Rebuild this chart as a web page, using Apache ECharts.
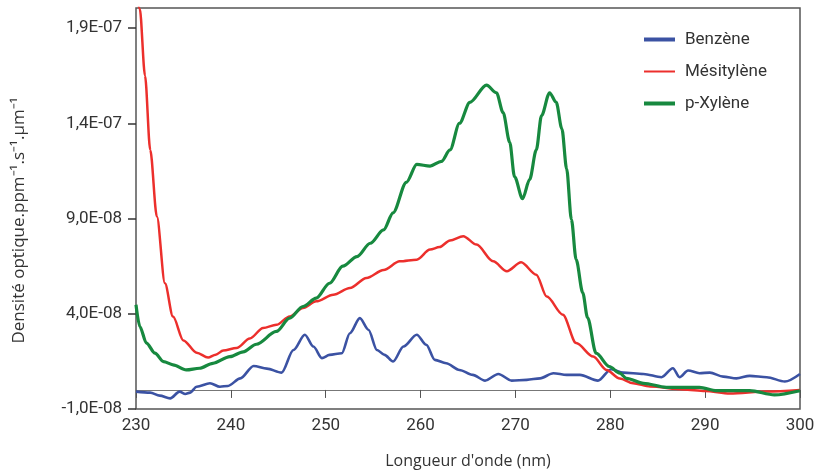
<!DOCTYPE html>
<html>
<head>
<meta charset="utf-8">
<script src="https://cdn.jsdelivr.net/npm/echarts@6/dist/echarts.min.js"></script>
<style>
  html, body { margin: 0; padding: 0; background: #fff; }
  #chart { width: 822px; height: 471px; }
</style>
</head>
<body>
<div id="chart"></div>
<script>
// values, y in units of 1E-08
var benzeneX = [230.0, 231.5, 232.5, 233.6, 234.6, 235.2, 235.7, 236.4, 237.8, 238.85, 239.7, 241.0, 242.4, 243.8, 245.35, 246.6, 247.8, 248.7, 249.6, 250.4, 251.7, 252.55, 253.6, 254.5, 255.4, 256.2, 257.1, 258.2, 259.6, 260.6, 261.5, 262.7, 264.1, 265.5, 266.8, 268.2, 269.6, 271.2, 272.6, 274.0, 275.4, 276.8, 278.7, 280.1, 281.35, 283.5, 285.4, 286.6, 287.3, 288.2, 289.4, 290.5, 291.9, 293.3, 294.7, 296.5, 298.4, 300.0];
var benzeneY = [-0.09, -0.14, -0.3, -0.44, -0.09, -0.21, -0.14, 0.17, 0.35, 0.17, 0.21, 0.61, 1.26, 1.12, 0.91, 2.1, 2.9, 2.28, 1.67, 1.84, 1.93, 2.98, 3.77, 3.16, 2.1, 1.84, 1.49, 2.28, 2.9, 2.37, 1.58, 1.4, 1.05, 0.79, 0.49, 0.84, 0.49, 0.53, 0.61, 0.88, 0.79, 0.79, 0.49, 1.09, 0.91, 0.84, 0.67, 1.14, 0.67, 1.02, 0.88, 0.91, 0.7, 0.61, 0.74, 0.67, 0.44, 0.84];

var mesityleneX = [230.0, 230.4, 230.95, 231.5, 232.2, 233.05, 233.9, 235.0, 236.4, 237.6, 238.4, 239.2, 240.6, 242.0, 243.4, 244.8, 246.2, 247.6, 249.0, 250.8, 252.55, 254.3, 256.1, 257.8, 259.6, 261.0, 262.0, 263.1, 264.5, 265.9, 267.65, 269.1, 270.6, 272.2, 273.3, 275.0, 276.4, 278.2, 279.6, 281.0, 282.4, 284.2, 287.7, 290.0, 292.6, 296.5, 300.0];
var mesityleneY = [21.0, 20.0, 16.5, 12.6, 9.1, 5.6, 3.85, 2.6, 1.95, 1.7, 1.85, 2.07, 2.2, 2.7, 3.25, 3.42, 3.86, 4.3, 4.65, 5.0, 5.35, 5.88, 6.3, 6.75, 6.84, 7.37, 7.5, 7.85, 8.07, 7.63, 6.75, 6.23, 6.7, 6.05, 4.9, 3.95, 2.46, 1.75, 1.05, 0.6, 0.35, 0.18, 0.03, -0.05, -0.18, -0.08, 0.0];

var xyleneX = [230.0, 230.4, 231.1, 232.0, 232.9, 233.9, 235.3, 236.7, 238.1, 239.9, 241.3, 242.7, 244.8, 246.2, 247.6, 249.0, 250.4, 251.8, 253.3, 254.7, 256.1, 257.1, 258.5, 259.6, 261.0, 262.2, 263.1, 264.1, 265.2, 266.95, 268.0, 268.7, 269.4, 269.9, 270.75, 271.5, 272.2, 272.75, 273.6, 274.3, 274.9, 275.4, 275.9, 276.4, 277.1, 277.6, 278.5, 279.9, 281.0, 281.7, 283.5, 285.9, 289.4, 291.2, 294.7, 297.3, 300.0];
var xyleneY = [4.47, 3.33, 2.46, 1.93, 1.49, 1.32, 1.05, 1.14, 1.4, 1.75, 2.0, 2.4, 3.07, 3.77, 4.38, 4.82, 5.6, 6.5, 7.0, 7.7, 8.4, 9.3, 10.9, 11.84, 11.75, 12.0, 12.6, 14.0, 15.1, 16.0, 15.6, 14.56, 13.0, 11.2, 10.04, 11.05, 12.6, 14.4, 15.6, 15.1, 13.7, 11.6, 8.95, 6.84, 5.1, 3.8, 1.93, 1.23, 0.88, 0.61, 0.35, 0.14, 0.14, -0.04, -0.04, -0.26, -0.04];

var seriesNames = ['Benzène', 'Mésitylène', 'p-Xylène'];
var seriesColors = ['#3b52a3', '#ec2f2c', '#17893f'];
var yTickValues = [-1e-8, 4e-8, 9e-8, 1.4e-7, 1.9e-7];
var xTickValues = [230, 240, 250, 260, 270, 280, 290, 300];
var unit = 1e-8;

function pairs(xs, ys) {
  var out = [];
  for (var i = 0; i < xs.length; i++) {
    out.push([xs[i], ys[i] * unit]);
  }
  return out;
}

function sciLabel(v) {
  var parts = v.toExponential(1).split('e');
  var exp = parseInt(parts[1], 10);
  var e = Math.abs(exp);
  return parts[0].replace('.', ',') + 'E' + (exp < 0 ? '-' : '+') + (e < 10 ? '0' + e : e);
}

function lineSeries(name, color, width, data) {
  return {
    name: name,
    type: 'line',
    xAxisIndex: 0,
    data: data,
    symbol: 'none',
    smooth: 0.3,
    smoothMonotone: 'x',
    clip: true,
    lineStyle: { color: color, width: width },
    itemStyle: { color: color }
  };
}

var chart = echarts.init(document.getElementById('chart'));
var tickFont = { fontFamily: 'Roboto', fontSize: 17, color: '#333' };

chart.setOption({
  animation: false,
  grid: {
    left: 136, right: 22, top: 8, bottom: 62,
    outerBoundsMode: 'none',
    containLabel: false,
    show: true, borderColor: '#555', borderWidth: 1.5
  },
  legend: {
    orient: 'vertical',
    left: 642, top: 31,
    padding: 0,
    itemWidth: 31, itemHeight: 14, itemGap: 15,
    itemStyle: { opacity: 0 },
    textStyle: { fontFamily: 'Roboto', fontSize: 17, color: '#333', padding: [0, 0, 0, 5] },
    data: [
      { name: seriesNames[0], lineStyle: { width: 4 } },
      { name: seriesNames[1], lineStyle: { width: 2 } },
      { name: seriesNames[2], lineStyle: { width: 4 } }
    ]
  },
  xAxis: [
    {
      type: 'value', min: 230, max: 300, interval: 10,
      axisLine: { show: true, onZero: true, lineStyle: { color: '#777', width: 1.2 } },
      axisTick: { show: true, length: 8, lineStyle: { color: '#555' } },
      axisLabel: { show: false },
      splitLine: { show: false }
    },
    {
      type: 'value', min: 230, max: 300, interval: 10,
      position: 'bottom',
      axisLine: { show: false, onZero: false },
      axisTick: { show: false },
      axisLabel: Object.assign({ margin: 8, customValues: xTickValues }, tickFont),
      splitLine: { show: false },
      name: "Longueur d'onde (nm)",
      nameLocation: 'middle',
      nameGap: 44,
      nameTextStyle: { fontFamily: 'Open Sans', fontSize: 16, color: '#333' }
    }
  ],
  yAxis: {
    type: 'value', min: -1e-8, max: 2.005e-7,
    axisLine: { show: false },
    axisTick: { show: true, length: 8, customValues: yTickValues, lineStyle: { color: '#333', width: 1.5 } },
    axisLabel: Object.assign({ margin: 14, customValues: yTickValues, formatter: sciLabel }, tickFont),
    splitLine: { show: false },
    name: 'Densité optique.ppm⁻¹.s⁻¹.µm⁻¹',
    nameLocation: 'middle',
    nameGap: 108,
    nameTextStyle: { fontFamily: 'Open Sans', fontSize: 17, color: '#333', padding: [0, 24, 0, 0] }
  },
  series: [
    lineSeries(seriesNames[0], seriesColors[0], 2.6, pairs(benzeneX, benzeneY)),
    lineSeries(seriesNames[1], seriesColors[1], 2.5, pairs(mesityleneX, mesityleneY)),
    lineSeries(seriesNames[2], seriesColors[2], 3.2, pairs(xyleneX, xyleneY))
  ]
});
</script>
</body>
</html>
